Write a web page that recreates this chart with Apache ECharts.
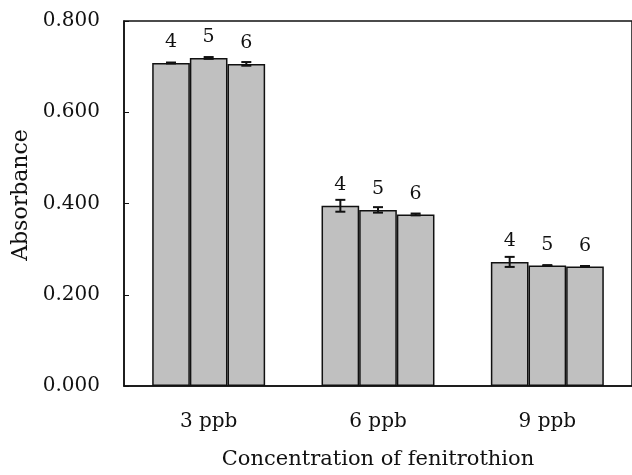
<!DOCTYPE html>
<html>
<head>
<meta charset="utf-8">
<script src="https://cdn.jsdelivr.net/npm/echarts@6/dist/echarts.min.js"></script>
<style>
html,body{margin:0;padding:0;background:#fff;}
#chart{width:632px;height:475px;}
</style>
</head>
<body>
<div id="chart"></div>
<script>
// concentrations on the x axis, one bar per series inside each group
const categories = ['3 ppb', '6 ppb', '9 ppb'];
const seriesNames = ['4', '5', '6'];
// mean absorbance per series
const meanS4 = [0.708, 0.395, 0.272];
const meanS5 = [0.719, 0.386, 0.264];
const meanS6 = [0.706, 0.376, 0.262];
// error (+/-) per series
const errS4 = [0.001, 0.013, 0.011];
const errS5 = [0.002, 0.006, 0.001];
const errS6 = [0.004, 0.002, 0.001];
const yTicks = [0, 0.2, 0.4, 0.6, 0.8];

const means = [meanS4, meanS5, meanS6];
const errs = [errS4, errS5, errS6];
const font = 'DejaVu Serif';
const textColor = '#111';
const groupRatio = 0.667; // part of a category taken by the three bars

let chart = echarts.init(document.getElementById('chart'));

let series = [];
means.forEach(function(data, i) {
    series.push({
        type: 'bar',
        name: seriesNames[i],
        data: data,
        barGap: 0,
        barCategoryGap: '33.3%',
        itemStyle: {color: '#c0c0c0', borderColor: '#111', borderWidth: 1.5},
        label: {
            show: true,
            position: 'top',
            distance: 11,
            formatter: seriesNames[i],
            color: textColor,
            fontFamily: font,
            fontSize: 19
        },
        z: 2
    });
});
// error bars drawn on top of each bar
means.forEach(function(data, i) {
    series.push({
        type: 'custom',
        name: 'err' + seriesNames[i],
        data: data.map(function(v, k) { return [k, v - errs[i][k], v + errs[i][k]]; }),
        z: 5,
        renderItem: function(params, api) {
            let lo = api.coord([api.value(0), api.value(1)]);
            let hi = api.coord([api.value(0), api.value(2)]);
            let bw = api.size([1, 0])[0] * groupRatio / 3;
            let x = lo[0] + (i - 1) * bw;
            let cap = 5;
            let style = {stroke: '#111', lineWidth: 2};
            return {
                type: 'group',
                children: [
                    {type: 'line', shape: {x1: x, y1: lo[1], x2: x, y2: hi[1]}, style: style},
                    {type: 'line', shape: {x1: x - cap, y1: lo[1], x2: x + cap, y2: lo[1]}, style: style},
                    {type: 'line', shape: {x1: x - cap, y1: hi[1], x2: x + cap, y2: hi[1]}, style: style}
                ]
            };
        }
    });
});

let option = {
    animation: false,
    grid: {
        left: 124, top: 21, width: 509, height: 367,
        show: true, borderColor: '#111', borderWidth: 1.5, backgroundColor: 'transparent'
    },
    xAxis: {
        type: 'category',
        data: categories,
        name: 'Concentration of fenitrothion',
        nameLocation: 'middle',
        nameGap: 63,
        nameTextStyle: {color: textColor, fontFamily: font, fontSize: 21},
        axisLine: {lineStyle: {color: '#111', width: 1.5}},
        axisTick: {inside: true, length: 5, lineStyle: {color: '#111'}},
        axisLabel: {color: textColor, fontFamily: font, fontSize: 20, margin: 26}
    },
    yAxis: {
        type: 'value',
        min: yTicks[0],
        max: yTicks[yTicks.length - 1],
        interval: yTicks[1] - yTicks[0],
        name: 'Absorbance',
        nameLocation: 'middle',
        nameGap: 92,
        nameTextStyle: {color: textColor, fontFamily: font, fontSize: 22, padding: [0, 0, 0, 17]},
        axisLine: {show: true, lineStyle: {color: '#111', width: 1.5}},
        axisTick: {show: true, inside: true, length: 5, lineStyle: {color: '#111'}},
        splitLine: {show: false},
        axisLabel: {
            color: textColor, fontFamily: font, fontSize: 20, margin: 24,
            formatter: function(v) { return v.toFixed(3); }
        }
    },
    series: series
};
chart.setOption(option);
</script>
</body>
</html>
